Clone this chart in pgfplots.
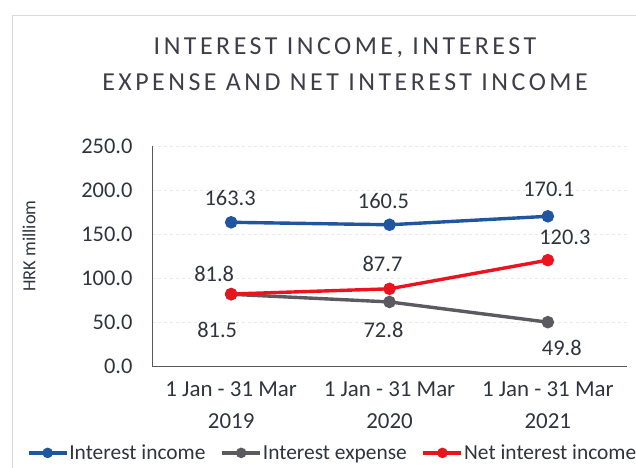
\documentclass[border=0pt]{standalone}
\usepackage{fontspec}
\setmainfont{Carlito}
\usepackage{pgfplots}
\pgfplotsset{compat=1.18}

\definecolor{incblue}{RGB}{32,86,160}
\definecolor{expgray}{RGB}{90,90,96}
\definecolor{netred}{RGB}{235,20,30}
\definecolor{txt}{RGB}{48,52,62}
\definecolor{ttl}{RGB}{62,62,74}

\begin{document}
\begin{tikzpicture}[x=1bp,y=1bp]
\path[use as bounding box] (-152,-102) rectangle (484,366);
% faint chart border
\draw[gray!30, line width=0.6bp] (-140,-102) -- (-140,351) -- (484,351);
\begin{axis}[
    scale only axis,
    width=475bp, height=220bp,
    xmin=-0.5, xmax=2.5,
    ymin=0, ymax=250,
    ytick={0,50,100,150,200,250},
    xtick={0,1,2},
    xticklabels={{1 Jan - 31 Mar\\2019},{1 Jan - 31 Mar\\2020},{1 Jan - 31 Mar\\2021}},
    xticklabel style={align=center, font=\fontsize{23}{32}\selectfont, text=txt, yshift=-12bp},
    yticklabel style={font=\fontsize{22.5}{24}\selectfont, text=txt, xshift=-16bp},
    /pgf/number format/assume math mode=true,
    /pgf/number format/.cd, fixed, fixed zerofill, precision=1, /pgfplots/.cd,
    axis x line*=bottom, axis y line*=left,
    axis line style={gray!70!black, line width=0.8bp},
    tick style={draw=none},
    ymajorgrids=true,
    grid style={gray!18, dashed, line width=0.5bp},
    ylabel={HRK milliom},
    ylabel style={font=\fontsize{18.5}{20}\selectfont, text=txt, at={(axis description cs:-0.259,0.545)}, anchor=center},
    clip=false,
    legend columns=3,
    legend style={at={(-0.27,-0.395)}, anchor=west, draw=none, fill=none,
        font=\fontsize{21.5}{24}\selectfont, text=txt,
        nodes={inner sep=1bp},
        /tikz/every even column/.append style={column sep=14bp}},
    legend image code/.code={\draw[#1,mark repeat=2,mark phase=2,mark size=3.5bp]
        plot coordinates {(0bp,0bp)(19bp,0bp)(38bp,0bp)};},
]
\addplot[incblue, line width=3.4bp, mark=*, mark size=4.5bp] coordinates {(0,163.3) (1,160.5) (2,170.1)};
\addlegendentry{Interest income}
\addplot[expgray, line width=3.4bp, mark=*, mark size=4.5bp] coordinates {(0,81.5) (1,72.8) (2,49.8)};
\addlegendentry{Interest expense}
\addplot[netred, line width=3.4bp, mark=*, mark size=4.5bp] coordinates {(0,81.8) (1,87.7) (2,120.3)};
\addlegendentry{Net interest income}

\begin{scope}[every node/.style={font=\fontsize{22.5}{24}\selectfont, text=txt}]
\node at (axis cs:0,163.3) [xshift=-1bp, yshift=24bp] {163.3};
\node at (axis cs:1,160.5) [xshift=-6bp, yshift=24bp] {160.5};
\node at (axis cs:2,170.1) [xshift=1bp, yshift=27bp] {170.1};
\node at (axis cs:0,81.8) [xshift=-17bp, yshift=20bp] {81.8};
\node at (axis cs:1,87.7) [xshift=-7bp, yshift=25bp] {87.7};
\node at (axis cs:2,120.3) [xshift=17bp, yshift=23bp] {120.3};
\node at (axis cs:0,81.5) [xshift=-14bp, yshift=-36bp] {81.5};
\node at (axis cs:1,72.8) [xshift=-6bp, yshift=-28bp] {72.8};
\node at (axis cs:2,49.8) [xshift=14bp, yshift=-26bp] {49.8};
\end{scope}
\end{axis}
\node[text=ttl, font=\fontsize{26}{28}\selectfont\addfontfeature{LetterSpace=13.5}] at (193,318) {INTEREST INCOME, INTEREST};
\node[text=ttl, font=\fontsize{26}{28}\selectfont\addfontfeature{LetterSpace=13.5}] at (193,284) {EXPENSE AND NET INTEREST INCOME};
\end{tikzpicture}
\end{document}
